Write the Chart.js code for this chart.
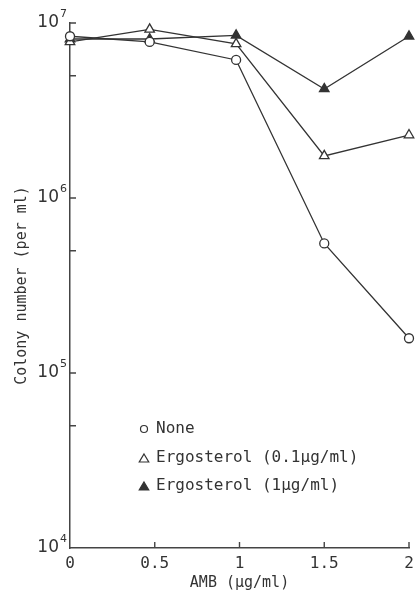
<!DOCTYPE html>
<html><head><meta charset="utf-8">
<script src="https://cdn.jsdelivr.net/npm/chart.js@4.4.1/dist/chart.umd.min.js"></script>
<style>html,body{margin:0;padding:0;background:#fff;overflow:hidden}</style>
</head><body>
<canvas id="c" width="416" height="603"></canvas>
<script>
// ---- data ----
const amb = [0, 0.47, 0.98, 1.5, 2];
const noneVals = [8.4e6, 7.8e6, 6.15e6, 5.5e5, 1.58e5];
const erg01Vals = [7.8e6, 9.2e6, 7.6e6, 1.74e6, 2.29e6];
const erg1Vals = [8.1e6, 8.1e6, 8.5e6, 4.2e6, 8.4e6];
const seriesLabels = ['None', 'Ergosterol (0.1μg/ml)', 'Ergosterol (1μg/ml)'];
const xTicks = [0, 0.5, 1, 1.5, 2];
const xTickLabels = ['0', '0.5', '1', '1.5', '2'];
const yTicks = [1e4, 1e5, 1e6, 1e7];
const yTickBase = '10';
const yTickExps = ['4', '5', '6', '7'];
const yMinorTicks = [5e4, 1e5, 5e5, 1e6, 5e6, 1e7];
const xTitle = 'AMB (μg/ml)';
const yTitle = 'Colony number (per ml)';

const INK = '#333';
const MONO = "'DejaVu Sans Mono', monospace";
const SANS = "'DejaVu Sans', sans-serif";

function pts(vals) { return amb.map((x, i) => ({x: x, y: vals[i]})); }

const styles = [
  {pointStyle: 'circle', radius: 4.5, bg: '#fff'},
  {pointStyle: 'triangle', radius: 5.5, bg: '#fff'},
  {pointStyle: 'triangle', radius: 5.5, bg: INK}
];

const datasets = [noneVals, erg01Vals, erg1Vals].map((v, i) => ({
  label: seriesLabels[i],
  data: pts(v),
  borderColor: INK,
  borderWidth: 1.3,
  pointStyle: styles[i].pointStyle,
  pointRadius: styles[i].radius,
  pointBackgroundColor: styles[i].bg,
  pointBorderColor: INK,
  pointBorderWidth: 1.3,
  showLine: true,
  tension: 0,
  clip: false
}));

function marker(ctx, style, x, y, r, fill) {
  ctx.beginPath();
  if (style === 'circle') {
    ctx.arc(x, y, r, 0, Math.PI * 2);
  } else {
    ctx.moveTo(x, y - r);
    ctx.lineTo(x + r * 0.95, y + r * 0.6);
    ctx.lineTo(x - r * 0.95, y + r * 0.6);
    ctx.closePath();
  }
  ctx.fillStyle = fill;
  ctx.fill();
  ctx.lineWidth = 1.2;
  ctx.strokeStyle = INK;
  ctx.stroke();
}

const decor = {
  id: 'decor',
  afterDraw(chart) {
    const {ctx, scales: {x, y}, chartArea: a} = chart;
    ctx.save();
    ctx.strokeStyle = '#444';
    ctx.lineWidth = 1.4;
    ctx.beginPath();
    yMinorTicks.forEach(v => {
      const py = y.getPixelForValue(v);
      ctx.moveTo(a.left, py); ctx.lineTo(a.left + 6, py);
    });
    xTicks.slice(1).forEach(v => {
      const px = x.getPixelForValue(v);
      ctx.moveTo(px, a.bottom); ctx.lineTo(px, a.bottom - 6);
    });
    ctx.stroke();
    // y tick labels: base with superscript exponent
    ctx.fillStyle = INK;
    ctx.textBaseline = 'alphabetic';
    yTicks.forEach((v, i) => {
      const py = y.getPixelForValue(v);
      ctx.font = '11px ' + SANS;
      const ew = ctx.measureText(yTickExps[i]).width;
      const right = a.left - 3;
      ctx.textAlign = 'right';
      ctx.fillText(yTickExps[i], right, py - 6);
      ctx.font = '17px ' + SANS;
      ctx.fillText(yTickBase, right - ew - 1, py + 4);
    });
    // legend
    const rows = [a.bottom - 119, a.bottom - 90, a.bottom - 62];
    const mx = a.left + 74, tx = a.left + 86;
    ctx.font = '16px ' + MONO;
    ctx.textBaseline = 'middle';
    ctx.textAlign = 'left';
    seriesLabels.forEach((lab, i) => {
      const r = styles[i].pointStyle === 'circle' ? 3.5 : 5;
      marker(ctx, styles[i].pointStyle, mx, rows[i] + (i ? 1 : 0), r, styles[i].bg);
      ctx.fillStyle = INK;
      ctx.fillText(lab, tx, rows[i]);
    });
    ctx.restore();
  }
};

new Chart(document.getElementById('c'), {
  type: 'scatter',
  data: {datasets},
  options: {
    responsive: false,
    animation: false,
    devicePixelRatio: 1,
    layout: {padding: {top: 23, right: 7, left: 0, bottom: 0}},
    plugins: {legend: {display: false}, tooltip: {enabled: false}},
    scales: {
      x: {
        type: 'linear', min: 0, max: 2,
        afterBuildTicks: s => { s.ticks = xTicks.map(v => ({value: v})); },
        afterFit: s => { s.height = 55; s.paddingLeft = 0; s.paddingRight = 0; },
        ticks: {
          callback: (v, i) => xTickLabels[i],
          font: {family: MONO, size: 16}, color: INK, padding: 6,
          maxRotation: 0, autoSkip: false
        },
        grid: {display: true, drawOnChartArea: false, drawTicks: false},
        border: {display: true, color: '#444', width: 1.5},
        title: {display: true, text: xTitle, font: {family: MONO, size: 15}, color: INK, padding: {top: 0, bottom: 11}}
      },
      y: {
        type: 'logarithmic', min: 1e4, max: 1e7,
        afterBuildTicks: s => { s.ticks = yTicks.map(v => ({value: v})); },
        afterFit: s => { s.width = 70; s.paddingTop = 0; s.paddingBottom = 0; },
        ticks: {display: false},
        grid: {display: true, drawOnChartArea: false, drawTicks: false},
        border: {display: true, color: '#444', width: 1.5},
        title: {display: true, text: yTitle, font: {family: MONO, size: 15}, color: INK, padding: {top: 13, bottom: 0}}
      }
    }
  },
  plugins: [decor]
});
</script>
</body></html>
